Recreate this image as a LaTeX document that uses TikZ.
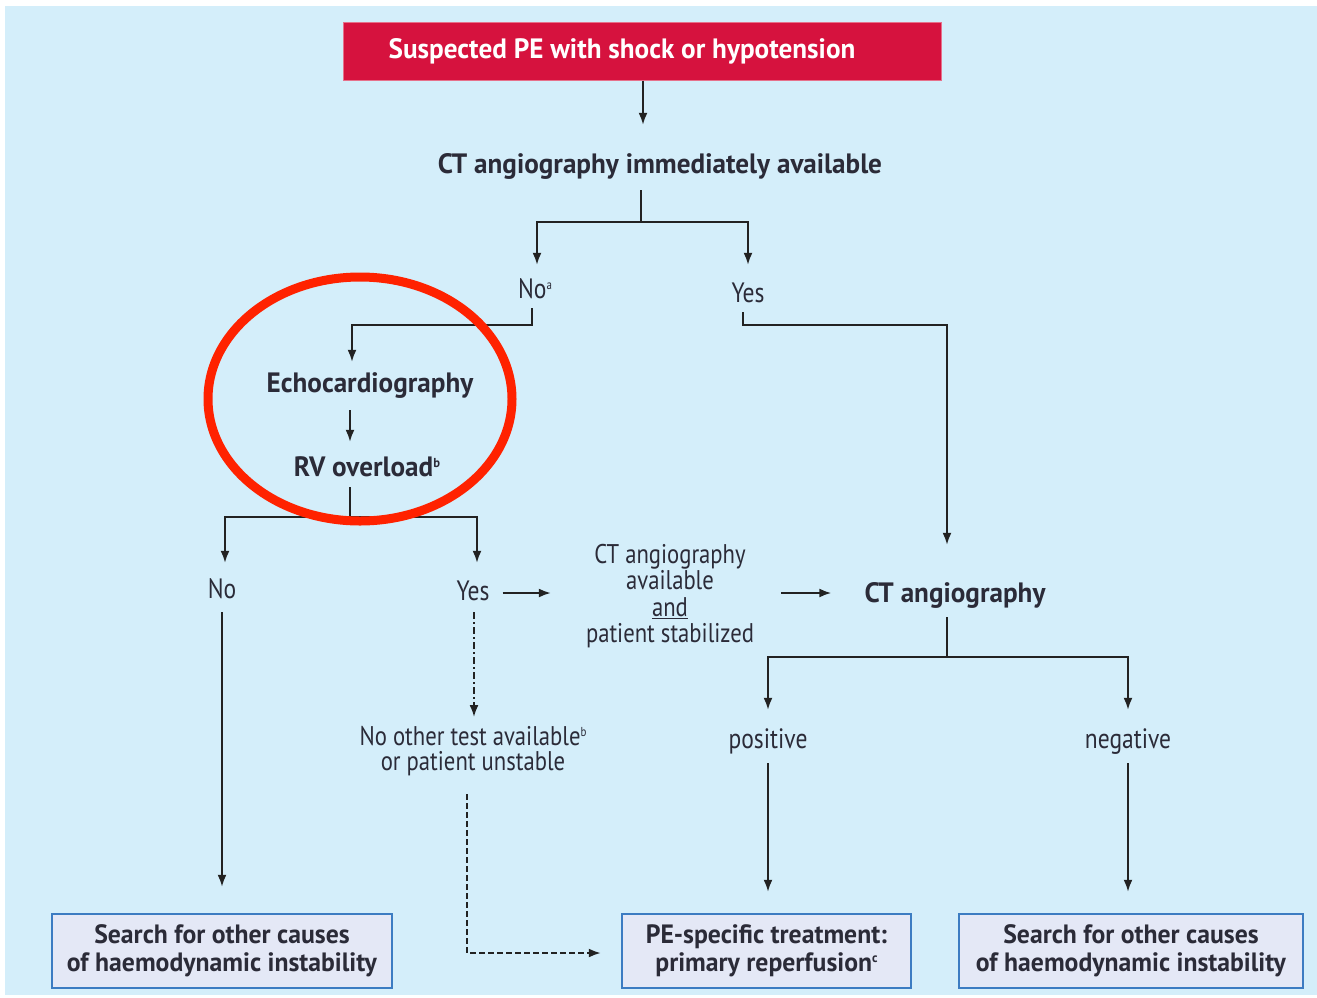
\documentclass[tikz,border=0pt]{standalone}
\usepackage{fontspec}
\setmainfont{PT Sans}[FakeStretch=0.84]
\newfontfamily\bfont{PT Sans}[FakeStretch=0.97]
\usetikzlibrary{arrows.meta}
\newcommand\supmark[1]{\raisebox{9pt}{\fontsize{13}{13}\selectfont #1}}
\definecolor{bg}{HTML}{D4EEFA}
\definecolor{topred}{HTML}{D6123E}
\definecolor{boxfill}{HTML}{E4E8F6}
\definecolor{boxblue}{HTML}{3C7CC2}
\definecolor{txt}{HTML}{2B2B38}
\definecolor{ann}{HTML}{FF2200}
\definecolor{ln}{HTML}{222222}
\tikzset{
  lbl/.style={inner sep=0pt, text height=20pt, text depth=6pt, text=txt, anchor=base,
    font=\fontsize{28}{30}\selectfont},
  lblb/.style={lbl, font=\fontsize{28}{30}\selectfont\bfont\bfseries},
  multi/.style={inner sep=0pt, text=txt, align=center},
  topbox/.style={fill=topred, draw=topred!60!white, line width=1pt, text=white, inner sep=0pt,
    minimum width=598pt, minimum height=58pt, font=\fontsize{28}{30}\selectfont\bfont\bfseries},
  endbox/.style={fill=boxfill, draw=boxblue, line width=2.5pt, text=txt, inner sep=0pt,
    align=center, minimum height=74pt, font=\fontsize{26.5}{28}\selectfont\bfont\bfseries},
  line/.style={draw=ln, line width=1.9pt},
  arr/.style={line, -{Latex[length=12pt,width=9pt]}},
  dashdotline/.style={dash pattern=on 7pt off 3pt on 2pt off 3pt},
  dashline/.style={dash pattern=on 6pt off 3pt},
  annot/.style={draw=ann, line width=9pt}
}
\begin{document}
\begin{tikzpicture}[x=1pt,y=-1pt]
\useasboundingbox (0,0) rectangle (1317,997);
\fill[white] (0,0) rectangle (1317,997);
\fill[bg] (5,6) rectangle (1317,995);

% nodes
\node[topbox] (top) at (642,51) {Suspected PE with shock or hypotension\kern40pt};
\node[lblb] (ctimm) at (660,173) {CT angiography immediately available};
\node[lbl] (no1) at (535,298) {No\supmark{a}};
\node[lbl] (yes1) at (748,302) {Yes};
\node[lblb] (echo) at (370,392) {Echocardiography};
\node[lblb] (rv) at (367,476) {RV overload\supmark{b}};
\node[lbl] (no2) at (222,598) {No};
\node[lbl] (yes2) at (473,600) {Yes};
\node[multi, font=\fontsize{27}{26.3}\selectfont] (ctstab) at (670,596) {CT angiography\\available\\\underline{and}\\patient stabilized};
\node[lblb] (ctr) at (955,602) {CT angiography};
\node[lbl] (pos) at (768,748) {positive};
\node[lbl] (neg) at (1128,748) {negative};
\node[multi, font=\fontsize{27}{25}\selectfont] (noother) at (473,751) {No other test available\supmark{b}\\or patient unstable};
\node[endbox, minimum width=340pt] (box1) at (222,951) {Search for other causes\\of haemodynamic instability};
\node[endbox, minimum width=289pt] (box2) at (766.5,951) {PE-specific treatment:\\primary reperfusion\supmark{c}};
\node[endbox, minimum width=344pt] (box3) at (1131,951) {Search for other causes\\of haemodynamic instability};

% connectors
\draw[arr] ([xshift=1pt]top.south) -- ([xshift=-17pt,yshift=28pt]ctimm.north);
\draw[line] ([xshift=-19pt,yshift=-11pt]ctimm.south) -- ++(0,32) coordinate (j1);
\draw[arr] (j1) -| ([xshift=2pt,yshift=13pt]no1.north);
\draw[arr] (j1) -| ([yshift=17pt]yes1.north);
\draw[arr] ([xshift=-3pt,yshift=-4pt]no1.south) |- ([xshift=-18pt,yshift=47pt]echo.north) -- ([xshift=-18pt,yshift=10pt]echo.north);
\draw[arr] ([xshift=-5pt,yshift=-4pt]yes1.south) |- ([xshift=-8pt,yshift=257pt]ctr.north) -- ([xshift=-8pt,yshift=37pt]ctr.north);
\draw[arr] ([xshift=-20pt,yshift=-12pt]echo.south) -- ([xshift=-17pt,yshift=14pt]rv.north);
\draw[line] ([xshift=-17pt,yshift=-5pt]rv.south) -- ++(0,30) coordinate (j2);
\draw[arr] (j2) -| ([xshift=3pt,yshift=15pt]no2.north);
\draw[arr] (j2) -| ([xshift=4pt,yshift=17pt]yes2.north);
\draw[arr] ([yshift=-8pt]no2.south) -- ([yshift=26pt]no2.south |- box1.north);
\draw[arr, shorten <=13pt, shorten >=35pt] (yes2.east) -- (yes2.east -| ctstab.west);
\draw[arr, shorten <=27pt, shorten >=33pt] (ctstab.east |- yes2.east) -- (yes2.east -| ctr.west);
\draw[arr, dashdotline] ([xshift=1pt,yshift=-6pt]yes2.south) -- ([xshift=1pt,yshift=9pt]noother.north);
\draw[arr, dashline] ([xshift=-6pt,yshift=-18pt]noother.south) |- ([xshift=-20pt,yshift=-2pt]box2.west);
\draw[line] ([xshift=-8pt,yshift=-9pt]ctr.south) -- ++(0,40) coordinate (j3);
\draw[arr] (j3) -| ([yshift=18pt]pos.north);
\draw[arr] (j3) -| ([yshift=18pt]neg.north);
\draw[arr, shorten <=9pt, shorten >=21pt] (pos.south) -- (pos.south |- box2.north);
\draw[arr, shorten <=9pt, shorten >=21pt] (neg.south) -- (neg.south |- box3.north);

% annotation ellipse
\draw[annot] (360,399) ellipse [x radius=152pt, y radius=122pt];
\end{tikzpicture}
\end{document}
